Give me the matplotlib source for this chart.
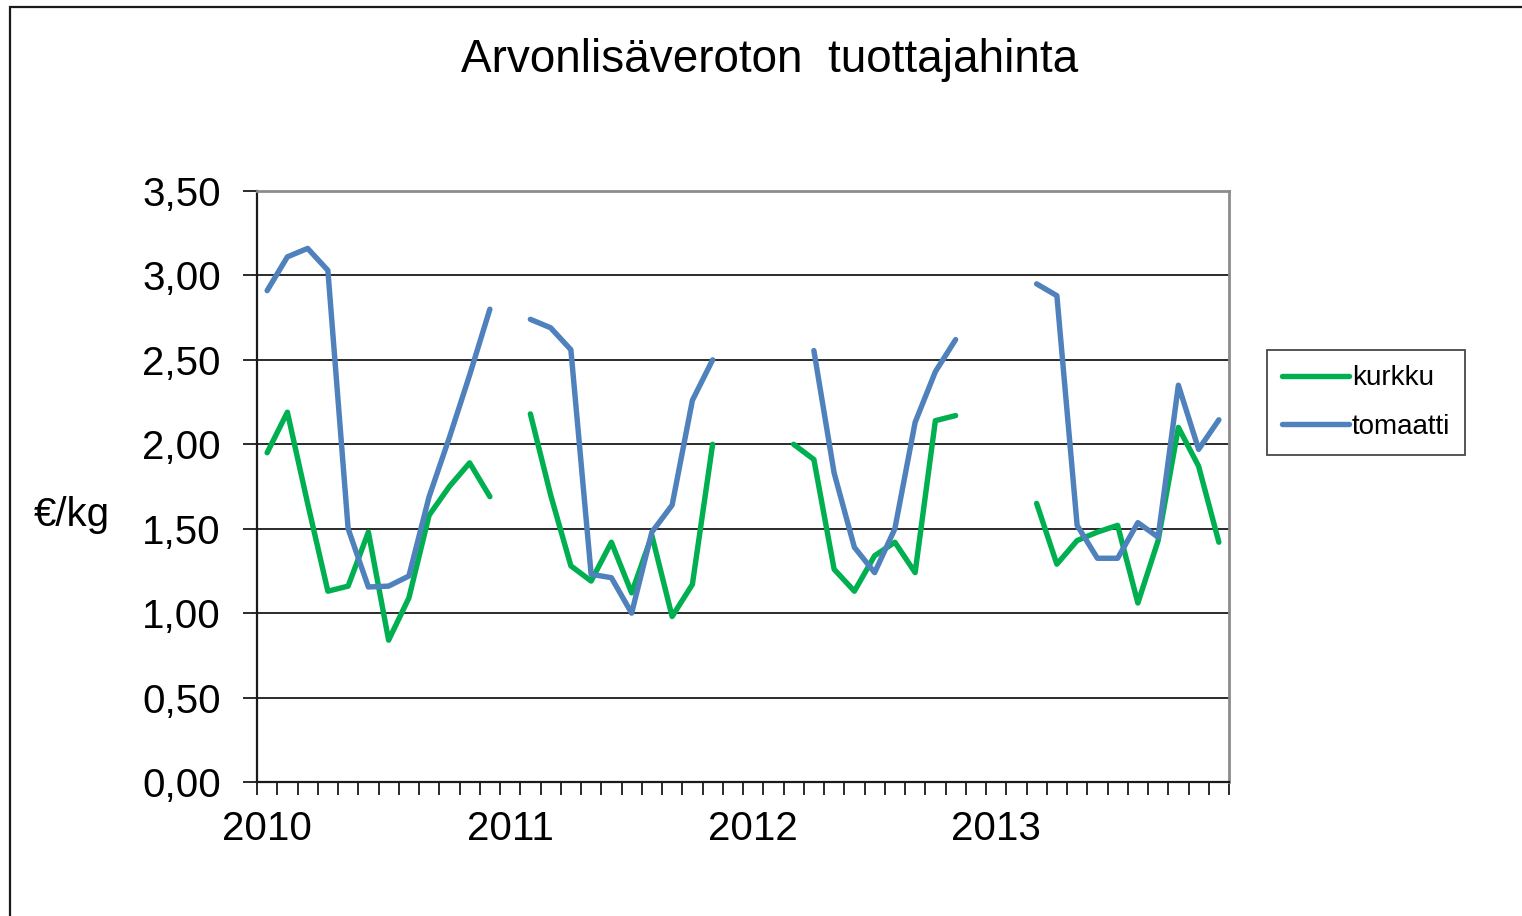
import numpy as np
import matplotlib
matplotlib.use("Agg")
import matplotlib.pyplot as plt
from matplotlib.lines import Line2D
from matplotlib.patches import Rectangle

plt.rcParams['font.family'] = ['Liberation Sans', 'DejaVu Sans']

nan = np.nan
years = ["2010", "2011", "2012", "2013"]
kurkku = [1.95, 2.19, 1.65, 1.13, 1.16, 1.48, 0.84, 1.09, 1.58, 1.75, 1.89, 1.69,
          nan, 2.18, 1.70, 1.28, 1.19, 1.42, 1.12, 1.46, 0.98, 1.17, 2.00, nan,
          nan, nan, 2.00, 1.91, 1.26, 1.13, 1.34, 1.42, 1.24, 2.14, 2.17, nan,
          nan, nan, 1.65, 1.29, 1.43, 1.48, 1.52, 1.06, 1.43, 2.10, 1.87, 1.42]
tomaatti = [2.91, 3.11, 3.16, 3.03, 1.50, 1.155, 1.16, 1.22, 1.69, 2.04, 2.41, 2.80,
            nan, 2.74, 2.69, 2.56, 1.23, 1.21, 1.00, 1.48, 1.64, 2.26, 2.50, nan,
            nan, nan, nan, 2.555, 1.83, 1.39, 1.24, 1.50, 2.13, 2.43, 2.62, nan,
            nan, nan, 2.95, 2.88, 1.52, 1.325, 1.325, 1.536, 1.45, 2.35, 1.97, 2.145]
yticks = [0.0, 0.5, 1.0, 1.5, 2.0, 2.5, 3.0, 3.5]
title = "Arvonlisäveroton  tuottajahinta"
ylabel = "€/kg"

W, H = 1522, 916
fig = plt.figure(figsize=(W/100, H/100), dpi=100)
fig.patch.set_facecolor('white')
ax = fig.add_axes([257/W, 1-782/H, (1229-257)/W, (782-191)/H])

n = len(kurkku)
x = np.arange(n) + 0.5
green = '#00B050'
blue = '#4F81BD'
ax.plot(x, kurkku, color=green, lw=3.9, solid_capstyle='round', solid_joinstyle='round', zorder=3)
ax.plot(x, tomaatti, color=blue, lw=3.9, solid_capstyle='round', solid_joinstyle='round', zorder=3)

ax.set_xlim(0, n)
ax.set_ylim(0, 3.5)
ax.set_yticks(yticks)
ax.set_yticklabels([f"{v:.2f}".replace('.', ',') for v in yticks], fontsize=29)
ax.yaxis.grid(True, color='#1a1a1a', lw=1.3)
ax.set_axisbelow(True)

ax.set_xticks(np.arange(0, n + 1), minor=True)
ax.set_xticks(np.arange(0, n, 12) + 0.5)
ax.set_xticklabels(years, fontsize=29)
ax.tick_params(axis='x', which='major', length=0, pad=20)
ax.tick_params(axis='x', which='minor', length=9, width=1.3, direction='out', color='#1a1a1a')
ax.tick_params(axis='y', length=10, width=1.3, direction='out', pad=16, color='#1a1a1a')

for s in ['left', 'bottom']:
    ax.spines[s].set_color('#1a1a1a')
    ax.spines[s].set_linewidth(1.6)
for s in ['top', 'right']:
    ax.spines[s].set_color('#8c8c8c')
    ax.spines[s].set_linewidth(2)

fig.text(72/W, 1-515/H, ylabel, fontsize=29, ha='center', va='center')
fig.text(770/W, 1-60/H, title, fontsize=33, ha='center', va='center')

# legend
handles = [Line2D([], [], color=green, lw=3.9, solid_capstyle='round'),
           Line2D([], [], color=blue, lw=3.9, solid_capstyle='round')]
leg = fig.legend(handles, ['kurkku', 'tomaatti'], loc='upper left',
                 bbox_to_anchor=(1267/W, 1-350/H), fontsize=20, frameon=True,
                 fancybox=False, edgecolor='#1a1a1a', handlelength=2.4,
                 handletextpad=0.1, borderpad=0.55, labelspacing=0.8, borderaxespad=0)
leg.get_frame().set_linewidth(1.3)

# outer border
fig.patches.append(Rectangle((10/W, -0.1), 1.2, 1 - 7/H + 0.1, transform=fig.transFigure,
                             fill=False, edgecolor='#1a1a1a', lw=1.6))

fig.savefig('out.png', dpi=100)
